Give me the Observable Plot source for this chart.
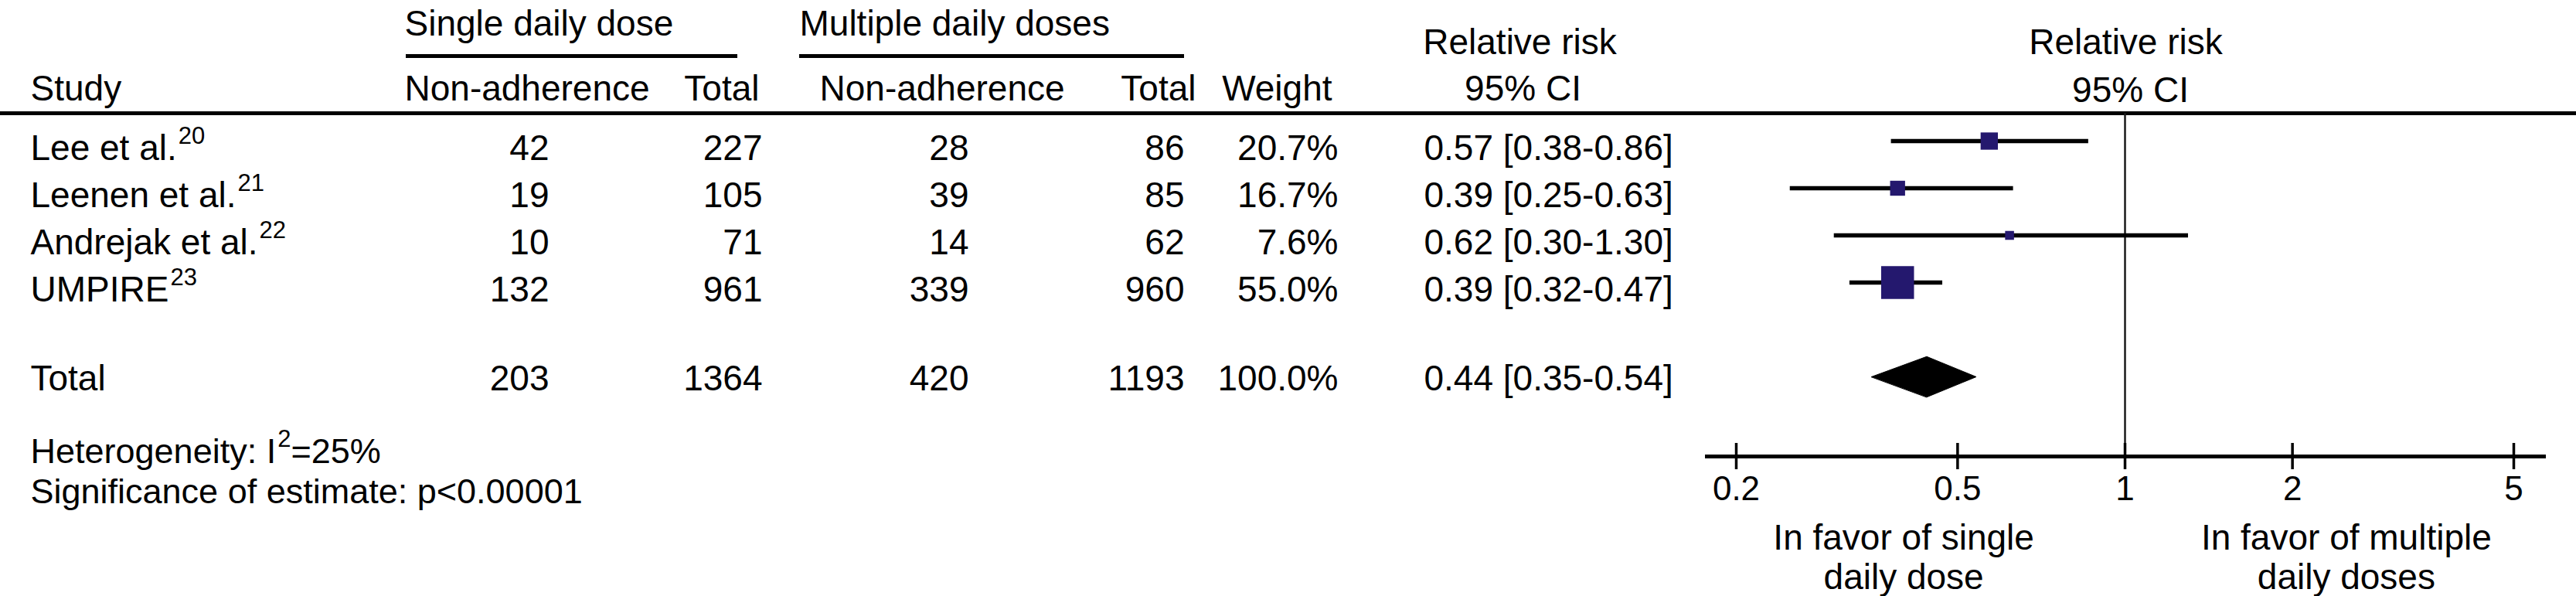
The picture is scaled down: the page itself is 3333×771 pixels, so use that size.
<!DOCTYPE html>
<html><head><meta charset="utf-8">
<script src="https://cdn.jsdelivr.net/npm/d3@7"></script>
<script src="https://cdn.jsdelivr.net/npm/@observablehq/plot@0.6"></script>
<style>
html,body{margin:0;padding:0;background:#fff;}
#chart{position:relative;width:3333px;height:771px;background:#fff;}
#chart svg{position:absolute;left:0;top:0;}
</style></head><body><div id="chart"></div>
<script>
// ---------- data ----------
const studies = ["Lee et al.", "Leenen et al.", "Andrejak et al.", "UMPIRE"];
const refs = ["20", "21", "22", "23"];
const singleNonAdh = [42, 19, 10, 132];
const singleTotal = [227, 105, 71, 961];
const multiNonAdh = [28, 39, 14, 339];
const multiTotal = [86, 85, 62, 960];
const weights = [20.7, 16.7, 7.6, 55.0];
const rr = [0.57, 0.39, 0.62, 0.39];
const ciLow = [0.38, 0.25, 0.30, 0.32];
const ciHigh = [0.86, 0.63, 1.30, 0.47];
const pooled = ["Total"];
const pooledSingleNonAdh = [203];
const pooledSingleTotal = [1364];
const pooledMultiNonAdh = [420];
const pooledMultiTotal = [1193];
const pooledWeight = [100.0];
const pooledRR = [0.44];
const pooledLow = [0.35];
const pooledHigh = [0.54];
const tickValues = [0.2, 0.5, 1, 2, 5];
const tickLabels = ["0.2", "0.5", "1", "2", "5"];
const favorLabels = ["In favor of single\ndaily dose", "In favor of multiple\ndaily doses"];
const favorAt = [0.4, 2.5];
const groupHeaders = ["Single daily dose", "Multiple daily doses"];
const columnHeaders = ["Study", "Non-adherence", "Total", "Non-adherence", "Total", "Weight"];
const rrHeader = ["Relative risk", "95% CI"];
const footnotes = ["Heterogeneity: I^{2}=25%", "Significance of estimate: p<0.00001"];

// ---------- layout ----------
const W = 3333, H = 771;
const FONT = "'Liberation Sans', Arial, Helvetica, sans-serif";
const FS = 46;
const L = {
  xRange: [2246, 3252], frameLeft: 2206, frameRight: 3294,
  rowDomain: [0, 5], rowRange: [182, 487], pooledRow: 5,
  forestTop: 146, tickTop: 573, tickBottom: 607,
  diamondHalf: 0.43,
  colStudy: 39, colEv1: 710, colN1: 986, colEv2: 1253, colN2: 1532, colW: 1731, colCI: 1842,
  hdrGroupBase: 45, hdrRRBase: 69, hdrBase: 129, hdrCIBase: 129,
  hdrEv1: 523, hdrGroup2: 1034, hdrN1: 982, hdrEv2: 1060, hdrN2: 1547, hdrW: 1723,
  rrCenter: 1966, rrCenterRight: 2750,
  underline: [[525, 954], [1034, 1532]], underlineY: 72,
  ruleY: 146, rowBaseOffset: 24, pooledBaseOffset: 17,
  footBase: [598, 650], favorDy: 68,
  supSize: 31, supRaise: 21, supGap: 2
};
const fmt2 = v => v.toFixed(2);
const ciText = (r, lo, hi) => `${fmt2(r)} [${fmt2(lo)}-${fmt2(hi)}]`;

// ---------- forest plot ----------
const rows = studies.map((s, i) => ({study: s, idx: i, rr: rr[i], lo: ciLow[i], hi: ciHigh[i], w: weights[i]}));
const diamond = [
  {x: pooledLow[0], y: L.pooledRow},
  {x: pooledRR[0], y: L.pooledRow - L.diamondHalf},
  {x: pooledHigh[0], y: L.pooledRow},
  {x: pooledRR[0], y: L.pooledRow + L.diamondHalf}
];
const forest = Plot.plot({
  width: W, height: H,
  marginTop: L.forestTop, marginBottom: H - L.tickBottom, marginLeft: L.frameLeft, marginRight: W - L.frameRight,
  style: {background: "transparent", fontFamily: FONT},
  x: {type: "log", domain: [tickValues[0], tickValues[tickValues.length - 1]], range: L.xRange, axis: null},
  y: {type: "linear", domain: L.rowDomain, range: L.rowRange, axis: null},
  r: {type: "pow", exponent: 0.66, domain: [0, 55], range: [0, 24]},
  marks: [
    Plot.ruleX([1], {stroke: "#1a1a1a", strokeWidth: 2.5}),
    Plot.ruleY(rows, {y: "idx", x1: "lo", x2: "hi", stroke: "#000", strokeWidth: 5.5}),
    Plot.dot(rows, {x: "rr", y: "idx", r: "w", symbol: "square", fill: "#24186e", stroke: null}),
    Plot.line(diamond, {x: "x", y: "y", curve: "linear-closed", fill: "#000", stroke: "#000", strokeWidth: 1})
  ]
});

// ---------- axis ----------
const favor = favorLabels.map((t, i) => ({t, x: favorAt[i]}));
const axis = Plot.plot({
  width: W, height: H,
  marginTop: L.tickTop, marginBottom: H - L.tickBottom, marginLeft: L.frameLeft, marginRight: W - L.frameRight,
  style: {background: "transparent", fontFamily: FONT, fontSize: "44px", color: "#000"},
  x: {type: "log", domain: [tickValues[0], tickValues[tickValues.length - 1]], range: L.xRange,
      ticks: tickValues, tickFormat: d => tickLabels[tickValues.indexOf(d)], tickSize: 0, tickPadding: 8, label: null},
  y: {axis: null},
  marks: [
    Plot.ruleY([0], {y: null, stroke: "#000", strokeWidth: 5}),
    Plot.ruleX(tickValues, {stroke: "#000", strokeWidth: 3.5}),
    Plot.text(favor, {x: "x", text: "t", frameAnchor: "bottom", lineAnchor: "top", dy: L.favorDy,
      fontSize: FS, lineHeight: 1.1, fill: "#000"})
  ]
});

// ---------- table ----------
const ys = forest.scale("y");
const yRow = v => (ys.apply ? ys.apply(v) : d3.scaleLinear(ys.domain, ys.range)(v));
const startTexts = [], endTexts = [], midTexts = [];
startTexts.push({t: groupHeaders[0], x: L.hdrEv1, y: L.hdrGroupBase});
startTexts.push({t: groupHeaders[1], x: L.hdrGroup2, y: L.hdrGroupBase});
startTexts.push({t: columnHeaders[0], x: L.colStudy, y: L.hdrBase});
startTexts.push({t: columnHeaders[1], x: L.hdrEv1, y: L.hdrBase});
endTexts.push({t: columnHeaders[2], x: L.hdrN1, y: L.hdrBase});
startTexts.push({t: columnHeaders[3], x: L.hdrEv2, y: L.hdrBase});
endTexts.push({t: columnHeaders[4], x: L.hdrN2, y: L.hdrBase});
endTexts.push({t: columnHeaders[5], x: L.hdrW, y: L.hdrBase});
midTexts.push({t: rrHeader[0], x: L.rrCenter, y: L.hdrRRBase});
midTexts.push({t: rrHeader[1], x: L.rrCenter + 4, y: L.hdrCIBase});
midTexts.push({t: rrHeader[0], x: L.rrCenterRight, y: L.hdrRRBase});
midTexts.push({t: rrHeader[1], x: L.rrCenterRight + 6, y: L.hdrCIBase + 2});
studies.forEach((s, i) => {
  const y = yRow(i) + L.rowBaseOffset;
  startTexts.push({t: `${s}^{${refs[i]}}`, x: L.colStudy, y});
  endTexts.push({t: String(singleNonAdh[i]), x: L.colEv1, y});
  endTexts.push({t: String(singleTotal[i]), x: L.colN1, y});
  endTexts.push({t: String(multiNonAdh[i]), x: L.colEv2, y});
  endTexts.push({t: String(multiTotal[i]), x: L.colN2, y});
  endTexts.push({t: weights[i].toFixed(1) + "%", x: L.colW, y});
  startTexts.push({t: ciText(rr[i], ciLow[i], ciHigh[i]), x: L.colCI, y});
});
{
  const y = yRow(L.pooledRow) + L.pooledBaseOffset;
  startTexts.push({t: pooled[0], x: L.colStudy, y});
  endTexts.push({t: String(pooledSingleNonAdh[0]), x: L.colEv1, y});
  endTexts.push({t: String(pooledSingleTotal[0]), x: L.colN1, y});
  endTexts.push({t: String(pooledMultiNonAdh[0]), x: L.colEv2, y});
  endTexts.push({t: String(pooledMultiTotal[0]), x: L.colN2, y});
  endTexts.push({t: pooledWeight[0].toFixed(1) + "%", x: L.colW, y});
  startTexts.push({t: ciText(pooledRR[0], pooledLow[0], pooledHigh[0]), x: L.colCI, y});
}
const footTexts = footnotes.map((t, i) => ({t, x: L.colStudy, y: L.footBase[i]}));
const rulesH = [
  ...L.underline.map(([a, b]) => ({y: L.underlineY, x1: a, x2: b})),
  {y: L.ruleY, x1: 0, x2: W}
];
const txt = (data, anchor, fs) => Plot.text(data, {x: "x", y: "y", text: "t", textAnchor: anchor,
  lineAnchor: "bottom", fontSize: fs, fill: "#000"});
const table = Plot.plot({
  width: W, height: H, margin: 0,
  style: {background: "transparent", fontFamily: FONT},
  x: {type: "identity", axis: null},
  y: {type: "identity", axis: null},
  marks: [
    Plot.ruleY(rulesH, {y: "y", x1: "x1", x2: "x2", stroke: "#000", strokeWidth: 5}),
    txt(startTexts, "start", FS),
    txt(endTexts, "end", FS),
    txt(midTexts, "middle", FS),
    txt(footTexts, "start", 45)
  ]
});

// superscripts: rebuild "^{..}" markup as tspans
const NS = "http://www.w3.org/2000/svg";
table.querySelectorAll("text").forEach(el => {
  const s = el.textContent;
  if (!s.includes("^{")) return;
  const parts = s.split(/\^\{([^}]*)\}/);
  el.textContent = "";
  let raised = false;
  parts.forEach((p, k) => {
    if (p === "") return;
    const ts = document.createElementNS(NS, "tspan");
    ts.textContent = p;
    if (k % 2 === 1) {
      ts.setAttribute("font-size", String(L.supSize));
      ts.setAttribute("dy", String(-L.supRaise));
      ts.setAttribute("dx", String(L.supGap));
      raised = true;
    } else if (raised) {
      ts.setAttribute("dy", String(L.supRaise));
      raised = false;
    }
    el.appendChild(ts);
  });
});

const chart = document.getElementById("chart");
chart.appendChild(table);
chart.appendChild(forest);
chart.appendChild(axis);
</script></body></html>
